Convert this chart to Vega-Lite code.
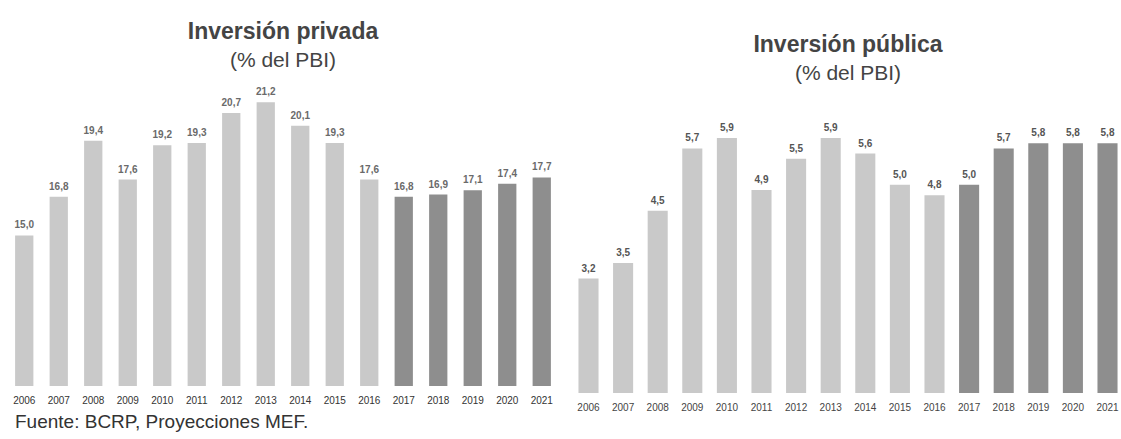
{
  "$schema": "https://vega.github.io/schema/vega-lite/v6.json",
  "background": "white",
  "padding": {"left": 7, "top": 21, "right": 0, "bottom": 0},
  "config": {
    "view": {"stroke": null},
    "font": "Liberation Sans",
    "locale": {"number": {"decimal": ",", "thousands": ".", "grouping": [3], "currency": ["", ""]}},
    "concat": {"spacing": 16}
  },
  "bounds": "flush",
  "title": {
    "text": "Fuente: BCRP, Proyecciones MEF.",
    "orient": "bottom",
    "anchor": "start",
    "fontSize": 19,
    "fontWeight": "normal",
    "color": "#333333",
    "font": "Liberation Sans",
    "offset": 1,
    "dx": 8
  },
  "datasets": {
    "privada": [
      {"anio": "2006", "valor": 15.0, "tipo": "Observado"},
      {"anio": "2007", "valor": 16.8, "tipo": "Observado"},
      {"anio": "2008", "valor": 19.4, "tipo": "Observado"},
      {"anio": "2009", "valor": 17.6, "tipo": "Observado"},
      {"anio": "2010", "valor": 19.2, "tipo": "Observado"},
      {"anio": "2011", "valor": 19.3, "tipo": "Observado"},
      {"anio": "2012", "valor": 20.7, "tipo": "Observado"},
      {"anio": "2013", "valor": 21.2, "tipo": "Observado"},
      {"anio": "2014", "valor": 20.1, "tipo": "Observado"},
      {"anio": "2015", "valor": 19.3, "tipo": "Observado"},
      {"anio": "2016", "valor": 17.6, "tipo": "Observado"},
      {"anio": "2017", "valor": 16.8, "tipo": "Proyectado"},
      {"anio": "2018", "valor": 16.9, "tipo": "Proyectado"},
      {"anio": "2019", "valor": 17.1, "tipo": "Proyectado"},
      {"anio": "2020", "valor": 17.4, "tipo": "Proyectado"},
      {"anio": "2021", "valor": 17.7, "tipo": "Proyectado"}
    ],
    "publica": [
      {"anio": "2006", "valor": 3.2, "tipo": "Observado"},
      {"anio": "2007", "valor": 3.5, "tipo": "Observado"},
      {"anio": "2008", "valor": 4.5, "tipo": "Observado"},
      {"anio": "2009", "valor": 5.7, "tipo": "Observado"},
      {"anio": "2010", "valor": 5.9, "tipo": "Observado"},
      {"anio": "2011", "valor": 4.9, "tipo": "Observado"},
      {"anio": "2012", "valor": 5.5, "tipo": "Observado"},
      {"anio": "2013", "valor": 5.9, "tipo": "Observado"},
      {"anio": "2014", "valor": 5.6, "tipo": "Observado"},
      {"anio": "2015", "valor": 5.0, "tipo": "Observado"},
      {"anio": "2016", "valor": 4.8, "tipo": "Observado"},
      {"anio": "2017", "valor": 5.0, "tipo": "Proyectado"},
      {"anio": "2018", "valor": 5.7, "tipo": "Proyectado"},
      {"anio": "2019", "valor": 5.8, "tipo": "Proyectado"},
      {"anio": "2020", "valor": 5.8, "tipo": "Proyectado"},
      {"anio": "2021", "valor": 5.8, "tipo": "Proyectado"}
    ]
  },
  "hconcat": [
    {
      "width": 552,
      "height": 286,
      "data": {"name": "privada"},
      "title": {
        "text": "Inversión privada",
        "subtitle": "(% del PBI)",
        "anchor": "middle",
        "fontSize": 23,
        "fontWeight": "bold",
        "color": "#444444",
        "subtitleFontSize": 21,
        "subtitleColor": "#444444",
        "subtitlePadding": 6,
        "offset": 16
      },
      "encoding": {
        "x": {
          "field": "anio", "type": "ordinal",
          "scale": {"paddingInner": 0.47, "paddingOuter": 0.235},
          "axis": {"title": null, "labelAngle": 0, "domain": false, "ticks": false, "labelPadding": 9, "labelFontSize": 10, "labelColor": "#333333", "labelFont": "Liberation Sans"}
        },
        "y": {
          "field": "valor", "type": "quantitative",
          "scale": {"domain": [8, 21.3], "zero": false, "nice": false},
          "axis": null
        }
      },
      "layer": [
        {
          "mark": {"type": "bar", "clip": true},
          "encoding": {
            "color": {
              "field": "tipo", "type": "nominal",
              "scale": {"domain": ["Observado", "Proyectado"], "range": ["#c9c9c9", "#8e8e8e"]},
              "legend": null
            }
          }
        },
        {
          "mark": {"type": "text", "baseline": "alphabetic", "dy": -7, "fontSize": 10, "fontWeight": "bold", "color": "#6a6a6a"},
          "encoding": {"text": {"field": "valor", "type": "quantitative", "format": ".1f"}}
        }
      ]
    },
    {
      "width": 546,
      "height": 293,
      "data": {"name": "publica"},
      "title": {
        "text": "Inversión pública",
        "subtitle": "(% del PBI)",
        "anchor": "middle",
        "fontSize": 23,
        "fontWeight": "bold",
        "color": "#444444",
        "subtitleFontSize": 21,
        "subtitleColor": "#444444",
        "subtitlePadding": 6,
        "offset": 16
      },
      "encoding": {
        "x": {
          "field": "anio", "type": "ordinal",
          "scale": {"paddingInner": 0.42, "paddingOuter": 0.1},
          "axis": {"title": null, "labelAngle": 0, "domain": false, "ticks": false, "labelPadding": 9, "labelFontSize": 10, "labelColor": "#444444", "labelFont": "Liberation Sans"}
        },
        "y": {
          "field": "valor", "type": "quantitative",
          "scale": {"domain": [1, 6.63], "zero": false, "nice": false},
          "axis": null
        }
      },
      "layer": [
        {
          "mark": {"type": "bar", "clip": true},
          "encoding": {
            "color": {
              "field": "tipo", "type": "nominal",
              "scale": {"domain": ["Observado", "Proyectado"], "range": ["#c9c9c9", "#8e8e8e"]},
              "legend": null
            }
          }
        },
        {
          "mark": {"type": "text", "baseline": "alphabetic", "dy": -7, "fontSize": 10, "fontWeight": "bold", "color": "#555555"},
          "encoding": {"text": {"field": "valor", "type": "quantitative", "format": ".1f"}}
        }
      ]
    }
  ]
}
